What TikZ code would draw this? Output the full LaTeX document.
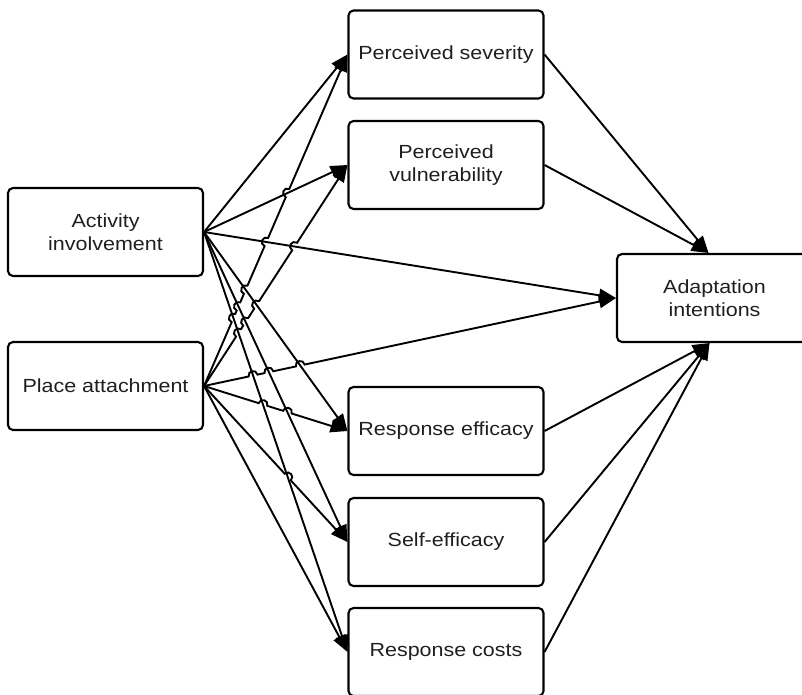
\documentclass[tikz,border=0pt]{standalone}
\usepackage{fontspec}
\setmainfont{Liberation Sans}[FakeStretch=1.13]
\usetikzlibrary{arrows.meta,calc}
\newcommand\hopr{4.5pt}
\newcommand\hopover[3]{-- ($(#1)!\hopr!(#2)$) to[bend left=90,looseness=1.7] ($(#1)!\hopr!(#3)$)}
\begin{document}
\begin{tikzpicture}[x=1pt,y=-1pt,
  box/.style={draw, line width=2.1pt, rounded corners=5pt, minimum width=195pt,
    minimum height=88pt, inner sep=0pt, align=center,
    font=\fontsize{19}{23.5}\selectfont, text=black!88},
  link/.style={line width=1.9pt, -{Triangle[length=17pt,width=13pt]}},
]
\useasboundingbox (0,0) rectangle (802,694);

\node[box] (ai) at (105.5,232) {Activity\\involvement};
\node[box] (pa) at (105.5,386) {Place attachment};
\node[box] (ps) at (446,54.5) {Perceived severity};
\node[box] (pv) at (446,165) {Perceived\\vulnerability};
\node[box] (re) at (446,431) {Response efficacy};
\node[box] (se) at (446,542) {Self-efficacy};
\node[box] (rc) at (446,652) {Response costs};
\node[box] (ad) at (714.5,298) {Adaptation\\intentions};

\coordinate (adn) at ([xshift=-6pt]ad.north);
\coordinate (ads) at ([xshift=-5pt]ad.south);

% crossings of Place lines with Activity lines
\coordinate (cps-rc) at (intersection of pa.east--ps.west and ai.east--rc.west);
\coordinate (cps-se) at (intersection of pa.east--ps.west and ai.east--se.west);
\coordinate (cps-re) at (intersection of pa.east--ps.west and ai.east--re.west);
\coordinate (cps-ad) at (intersection of pa.east--ps.west and ai.east--ad.west);
\coordinate (cps-pv) at (intersection of pa.east--ps.west and ai.east--pv.west);
\coordinate (cpv-rc) at (intersection of pa.east--pv.west and ai.east--rc.west);
\coordinate (cpv-se) at (intersection of pa.east--pv.west and ai.east--se.west);
\coordinate (cpv-re) at (intersection of pa.east--pv.west and ai.east--re.west);
\coordinate (cpv-ad) at (intersection of pa.east--pv.west and ai.east--ad.west);
\coordinate (cad-rc) at (intersection of pa.east--ad.west and ai.east--rc.west);
\coordinate (cad-se) at (intersection of pa.east--ad.west and ai.east--se.west);
\coordinate (cad-re) at (intersection of pa.east--ad.west and ai.east--re.west);
\coordinate (cre-rc) at (intersection of pa.east--re.west and ai.east--rc.west);
\coordinate (cre-se) at (intersection of pa.east--re.west and ai.east--se.west);
\coordinate (cse-rc) at (intersection of pa.east--se.west and ai.east--rc.west);

% Activity involvement lines
\draw[link] (ai.east) -- (ps.west);
\draw[link] (ai.east) -- (pv.west);
\draw[link] (ai.east) -- (ad.west);
\draw[link] (ai.east) -- (re.west);
\draw[link] (ai.east) -- (se.west);
\draw[link] (ai.east) -- (rc.west);

% Place attachment lines (with line hops)
\draw[link] (pa.east) \hopover{cps-rc}{pa.east}{ps.west} \hopover{cps-se}{pa.east}{ps.west}
  \hopover{cps-re}{pa.east}{ps.west} \hopover{cps-ad}{pa.east}{ps.west}
  \hopover{cps-pv}{pa.east}{ps.west} -- (ps.west);
\draw[link] (pa.east) \hopover{cpv-rc}{pa.east}{pv.west} \hopover{cpv-se}{pa.east}{pv.west}
  \hopover{cpv-re}{pa.east}{pv.west} \hopover{cpv-ad}{pa.east}{pv.west} -- (pv.west);
\draw[link] (pa.east) \hopover{cad-rc}{pa.east}{ad.west} \hopover{cad-se}{pa.east}{ad.west}
  \hopover{cad-re}{pa.east}{ad.west} -- (ad.west);
\draw[link] (pa.east) \hopover{cre-rc}{pa.east}{re.west} \hopover{cre-se}{pa.east}{re.west} -- (re.west);
\draw[link] (pa.east) \hopover{cse-rc}{pa.east}{se.west} -- (se.west);
\draw[link] (pa.east) -- (rc.west);

% mediators to Adaptation intentions
\draw[link] (ps.east) -- (adn);
\draw[link] (pv.east) -- (adn);
\draw[link] (re.east) -- (ads);
\draw[link] (se.east) -- (ads);
\draw[link] (rc.east) -- (ads);
\end{tikzpicture}
\end{document}
